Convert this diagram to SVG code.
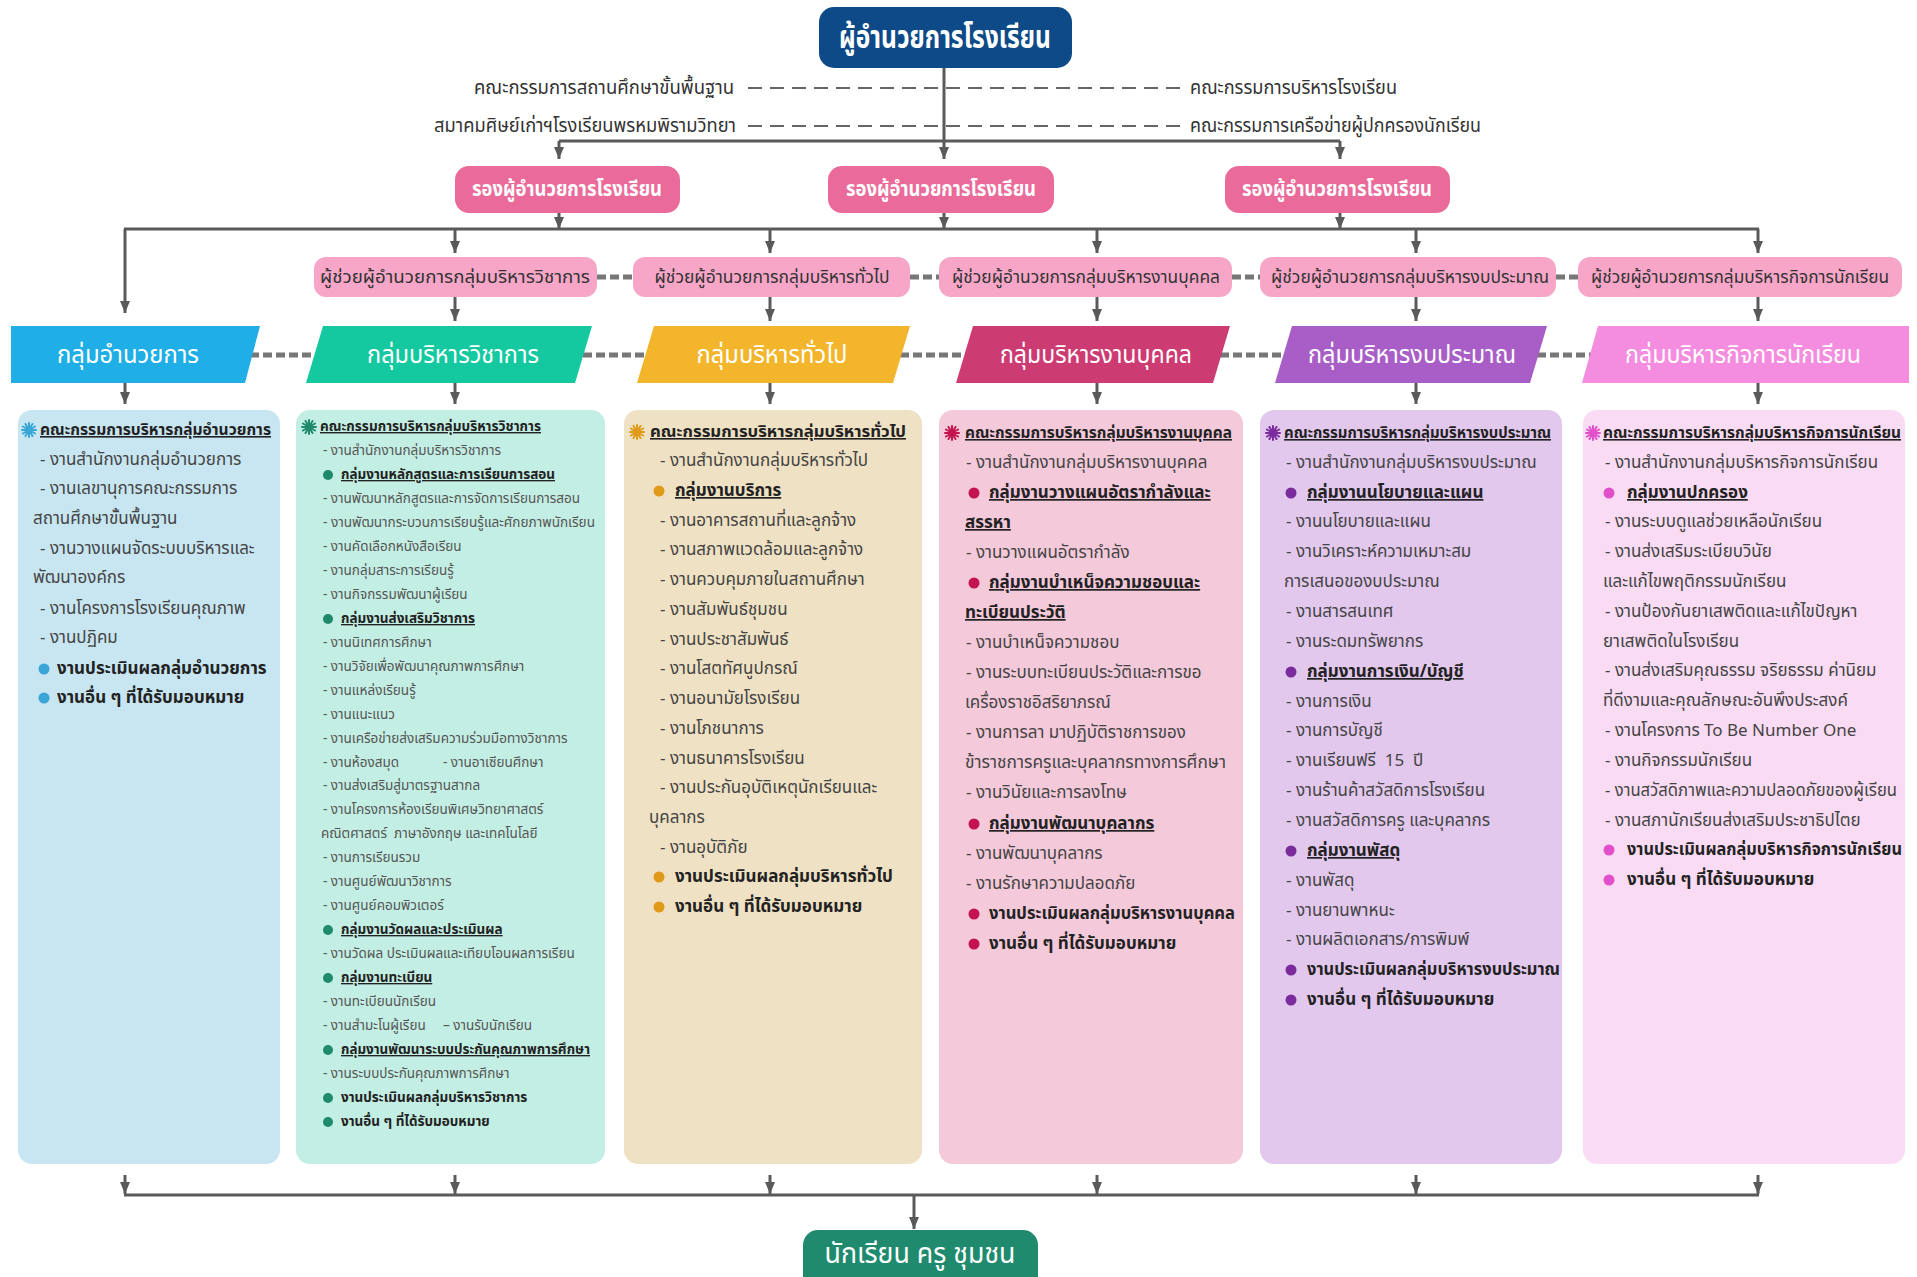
<svg xmlns="http://www.w3.org/2000/svg" xmlns:xlink="http://www.w3.org/1999/xlink" width="1917" height="1277" viewBox="0 0 1917 1277">
<defs>
<style>
text { font-family: "Noto Sans Thai", "Noto Sans Thai Looped", "Noto Sans", "DejaVu Sans", sans-serif; }
.hd { font-weight: 700; fill: #fff; text-anchor: middle; }
.gh { font-weight: 400; }
.lbl { font-size: 19px; fill: #333; }
.as { font-size: 17px; fill: #333; text-anchor: middle; }
.it { font-size: 17px; fill: #444; }
.itb { font-size: 17px; fill: #222; font-weight: 700; }
.ph { font-size: 16px; fill: #222; font-weight: 700; text-decoration: underline; }
.u { text-decoration: underline; }
.s2 { font-size: 13.5px; fill: #555; }
.s2b { font-size: 13.5px; fill: #222; font-weight: 700; }
.s2h { font-size: 14px; }
.conn { stroke: #5a5a5a; stroke-width: 3; fill: none; }
.arr { marker-end: url(#ah); }
.dash { stroke: #666; stroke-width: 2; stroke-dasharray: 14 8; fill: none; }
.dthick { stroke: #777; stroke-width: 5; stroke-dasharray: 9 4; fill: none; }
</style>
<marker id="ah" viewBox="0 0 12 10" refX="12" refY="5" markerWidth="12" markerHeight="10" orient="auto" markerUnits="userSpaceOnUse">
<path d="M0,0 L12,5 L0,10 z" fill="#5a5a5a"/>
</marker>
<g id="star">
<path d="M-7 0L7 0M-6.06-3.5L6.06 3.5M-3.5-6.06L3.5 6.06M0-7L0 7M3.5-6.06L-3.5 6.06M6.06-3.5L-6.06 3.5" stroke="currentColor" stroke-width="2" stroke-linecap="round" fill="none"/>
<circle r="3.2" fill="currentColor"/>
</g>
</defs>
<rect width="1917" height="1277" fill="#ffffff"/>

<g id="connectors">
<line class="dash" x1="748" y1="88" x2="1180" y2="88"/>
<line class="dash" x1="748" y1="126" x2="1180" y2="126"/>
<line class="conn arr" x1="944" y1="68" x2="944" y2="159"/>
<line class="conn" x1="559" y1="141" x2="1340" y2="141"/>
<line class="conn arr" x1="559" y1="141" x2="559" y2="159"/>
<line class="conn arr" x1="1340" y1="141" x2="1340" y2="159"/>
<line class="conn arr" x1="559" y1="213" x2="559" y2="229"/>
<line class="conn arr" x1="944" y1="213" x2="944" y2="229"/>
<line class="conn arr" x1="1340" y1="213" x2="1340" y2="229"/>
<line class="conn" x1="124" y1="229" x2="1759" y2="229"/>
<line class="conn arr" x1="125" y1="229" x2="125" y2="313"/>
<line class="conn arr" x1="455" y1="229" x2="455" y2="253"/>
<line class="conn arr" x1="770" y1="229" x2="770" y2="253"/>
<line class="conn arr" x1="1097" y1="229" x2="1097" y2="253"/>
<line class="conn arr" x1="1416" y1="229" x2="1416" y2="253"/>
<line class="conn arr" x1="1758" y1="229" x2="1758" y2="253"/>
<line class="dthick" x1="597" y1="277" x2="633" y2="277"/>
<line class="dthick" x1="910" y1="277" x2="939" y2="277"/>
<line class="dthick" x1="1232" y1="277" x2="1260" y2="277"/>
<line class="dthick" x1="1556" y1="277" x2="1578" y2="277"/>
<line class="conn arr" x1="455" y1="297" x2="455" y2="321"/>
<line class="conn arr" x1="770" y1="297" x2="770" y2="321"/>
<line class="conn arr" x1="1097" y1="297" x2="1097" y2="321"/>
<line class="conn arr" x1="1416" y1="297" x2="1416" y2="321"/>
<line class="conn arr" x1="1758" y1="297" x2="1758" y2="321"/>
<line class="dthick" x1="250" y1="355" x2="316" y2="355"/>
<line class="dthick" x1="583" y1="355" x2="647" y2="355"/>
<line class="dthick" x1="900" y1="355" x2="966" y2="355"/>
<line class="dthick" x1="1220" y1="355" x2="1285" y2="355"/>
<line class="dthick" x1="1537" y1="355" x2="1592" y2="355"/>
<line class="conn arr" x1="125" y1="383" x2="125" y2="404"/>
<line class="conn arr" x1="455" y1="383" x2="455" y2="404"/>
<line class="conn arr" x1="770" y1="383" x2="770" y2="404"/>
<line class="conn arr" x1="1097" y1="383" x2="1097" y2="404"/>
<line class="conn arr" x1="1416" y1="383" x2="1416" y2="404"/>
<line class="conn arr" x1="1758" y1="383" x2="1758" y2="404"/>
<line class="conn arr" x1="125" y1="1175" x2="125" y2="1194"/>
<line class="conn arr" x1="455" y1="1175" x2="455" y2="1194"/>
<line class="conn arr" x1="770" y1="1175" x2="770" y2="1194"/>
<line class="conn arr" x1="1097" y1="1175" x2="1097" y2="1194"/>
<line class="conn arr" x1="1416" y1="1175" x2="1416" y2="1194"/>
<line class="conn arr" x1="1758" y1="1175" x2="1758" y2="1194"/>
<line class="conn" x1="124" y1="1195" x2="1759" y2="1195"/>
<line class="conn arr" x1="914" y1="1195" x2="914" y2="1229"/>
</g>

<g id="node-director">
<rect x="819" y="7" width="253" height="61" rx="15" fill="#0e4a87"/>
<text class="hd" x="945" y="48" font-size="32" font-weight="500" textLength="212" lengthAdjust="spacingAndGlyphs">ผู้อำนวยการโรงเรียน</text>
</g>
<g id="label-basic-committee"><text class="lbl" x="734" y="94" text-anchor="end" textLength="260" lengthAdjust="spacingAndGlyphs">คณะกรรมการสถานศึกษาขั้นพื้นฐาน</text></g>
<g id="label-alumni"><text class="lbl" x="736" y="132" text-anchor="end" textLength="302" lengthAdjust="spacingAndGlyphs">สมาคมศิษย์เก่าฯโรงเรียนพรหมพิรามวิทยา</text></g>
<g id="label-admin-committee"><text class="lbl" x="1190" y="94" textLength="207" lengthAdjust="spacingAndGlyphs">คณะกรรมการบริหารโรงเรียน</text></g>
<g id="label-parent-network"><text class="lbl" x="1190" y="132" textLength="291" lengthAdjust="spacingAndGlyphs">คณะกรรมการเครือข่ายผู้ปกครองนักเรียน</text></g>

<g id="node-deputy-1">
<rect x="455" y="166" width="225" height="47" rx="14" fill="#ea6a9a"/>
<text class="hd" x="567" y="196" font-size="21" textLength="190" lengthAdjust="spacingAndGlyphs">รองผู้อำนวยการโรงเรียน</text>
</g>
<g id="node-deputy-2">
<rect x="828" y="166" width="226" height="47" rx="14" fill="#ea6a9a"/>
<text class="hd" x="941" y="196" font-size="21" textLength="190" lengthAdjust="spacingAndGlyphs">รองผู้อำนวยการโรงเรียน</text>
</g>
<g id="node-deputy-3">
<rect x="1225" y="166" width="225" height="47" rx="14" fill="#ea6a9a"/>
<text class="hd" x="1337" y="196" font-size="21" textLength="190" lengthAdjust="spacingAndGlyphs">รองผู้อำนวยการโรงเรียน</text>
</g>

<g id="node-asst-1">
<rect x="314" y="257" width="283" height="40" rx="12" fill="#f8a6c8"/>
<text class="as" x="455" y="283" textLength="270" lengthAdjust="spacingAndGlyphs">ผู้ช่วยผู้อำนวยการกลุ่มบริหารวิชาการ</text>
</g>
<g id="node-asst-2">
<rect x="633" y="257" width="277" height="40" rx="12" fill="#f8a6c8"/>
<text class="as" x="772" y="283" textLength="235" lengthAdjust="spacingAndGlyphs">ผู้ช่วยผู้อำนวยการกลุ่มบริหารทั่วไป</text>
</g>
<g id="node-asst-3">
<rect x="939" y="257" width="293" height="40" rx="12" fill="#f8a6c8"/>
<text class="as" x="1086" y="283" textLength="268" lengthAdjust="spacingAndGlyphs">ผู้ช่วยผู้อำนวยการกลุ่มบริหารงานบุคคล</text>
</g>
<g id="node-asst-4">
<rect x="1260" y="257" width="296" height="40" rx="12" fill="#f8a6c8"/>
<text class="as" x="1410" y="283" textLength="278" lengthAdjust="spacingAndGlyphs">ผู้ช่วยผู้อำนวยการกลุ่มบริหารงบประมาณ</text>
</g>
<g id="node-asst-5">
<rect x="1578" y="257" width="324" height="40" rx="12" fill="#f8a6c8"/>
<text class="as" x="1740" y="283" textLength="298" lengthAdjust="spacingAndGlyphs">ผู้ช่วยผู้อำนวยการกลุ่มบริหารกิจการนักเรียน</text>
</g>

<g id="node-group-1">
<polygon points="11,326 260,326 245,383 11,383" fill="#20aee6"/>
<text class="hd gh" x="128" y="363" font-size="24" textLength="142" lengthAdjust="spacingAndGlyphs">กลุ่มอำนวยการ</text>
</g>
<g id="node-group-2">
<polygon points="323,326 592,326 575,383 306,383" fill="#14c9a0"/>
<text class="hd gh" x="453" y="363" font-size="24" textLength="172" lengthAdjust="spacingAndGlyphs">กลุ่มบริหารวิชาการ</text>
</g>
<g id="node-group-3">
<polygon points="654,326 910,326 893,383 637,383" fill="#f3b52b"/>
<text class="hd gh" x="772" y="363" font-size="24" textLength="151" lengthAdjust="spacingAndGlyphs">กลุ่มบริหารทั่วไป</text>
</g>
<g id="node-group-4">
<polygon points="973,326 1230,326 1213,383 956,383" fill="#cd3b73"/>
<text class="hd gh" x="1096" y="363" font-size="24" textLength="192" lengthAdjust="spacingAndGlyphs">กลุ่มบริหารงานบุคคล</text>
</g>
<g id="node-group-5">
<polygon points="1292,326 1547,326 1530,383 1275,383" fill="#a85ec6"/>
<text class="hd gh" x="1412" y="363" font-size="24" textLength="208" lengthAdjust="spacingAndGlyphs">กลุ่มบริหารงบประมาณ</text>
</g>
<g id="node-group-6">
<polygon points="1598,326 1909,326 1909,383 1582,383" fill="#f48de0"/>
<text class="hd gh" x="1743" y="363" font-size="24" textLength="236" lengthAdjust="spacingAndGlyphs">กลุ่มบริหารกิจการนักเรียน</text>
</g>

<g id="node-panel-1">
<rect x="18" y="410" width="262" height="754" rx="14" fill="#c8e6f2"/>
<use href="#star" x="29" y="430" style="color:#3aa6d6"/>
<text class="ph" x="40" y="435" textLength="231" lengthAdjust="spacingAndGlyphs">คณะกรรมการบริหารกลุ่มอำนวยการ</text>
<text class="it" x="40" y="465">- งานสำนักงานกลุ่มอำนวยการ</text>
<text class="it" x="40" y="494">- งานเลขานุการคณะกรรมการ</text>
<text class="it" x="33" y="524">สถานศึกษาขั้นพื้นฐาน</text>
<text class="it" x="40" y="554">- งานวางแผนจัดระบบบริหารและ</text>
<text class="it" x="33" y="583">พัฒนาองค์กร</text>
<text class="it" x="40" y="614">- งานโครงการโรงเรียนคุณภาพ</text>
<text class="it" x="40" y="643">- งานปฏิคม</text>
<circle cx="44" cy="669" r="5.5" fill="#3aa6d6"/>
<text class="itb" x="57" y="674">งานประเมินผลกลุ่มอำนวยการ</text>
<circle cx="44" cy="698" r="5.5" fill="#3aa6d6"/>
<text class="itb" x="57" y="703">งานอื่น ๆ ที่ได้รับมอบหมาย</text>
</g>

<g id="node-panel-2">
<rect x="296" y="410" width="309" height="754" rx="14" fill="#c3eee3"/>
<use href="#star" x="309" y="427" style="color:#1f8a6a"/>
<text class="ph s2h" x="320" y="431" textLength="221" lengthAdjust="spacingAndGlyphs">คณะกรรมการบริหารกลุ่มบริหารวิชาการ</text>
<text class="s2" x="323" y="455">- งานสำนักงานกลุ่มบริหารวิชาการ</text>
<circle cx="328" cy="475" r="5" fill="#1f8a6a"/>
<text class="s2b u" x="341" y="479">กลุ่มงานหลักสูตรและการเรียนการสอน</text>
<text class="s2" x="323" y="503">- งานพัฒนาหลักสูตรและการจัดการเรียนการสอน</text>
<text class="s2" x="323" y="527" textLength="272" lengthAdjust="spacingAndGlyphs">- งานพัฒนากระบวนการเรียนรู้และศักยภาพนักเรียน</text>
<text class="s2" x="323" y="551">- งานคัดเลือกหนังสือเรียน</text>
<text class="s2" x="323" y="575">- งานกลุ่มสาระการเรียนรู้</text>
<text class="s2" x="323" y="599">- งานกิจกรรมพัฒนาผู้เรียน</text>
<circle cx="328" cy="619" r="5" fill="#1f8a6a"/>
<text class="s2b u" x="341" y="623">กลุ่มงานส่งเสริมวิชาการ</text>
<text class="s2" x="323" y="647">- งานนิเทศการศึกษา</text>
<text class="s2" x="323" y="671">- งานวิจัยเพื่อพัฒนาคุณภาพการศึกษา</text>
<text class="s2" x="323" y="695">- งานแหล่งเรียนรู้</text>
<text class="s2" x="323" y="719">- งานแนะแนว</text>
<text class="s2" x="323" y="743">- งานเครือข่ายส่งเสริมความร่วมมือทางวิชาการ</text>
<text class="s2" x="323" y="767">- งานห้องสมุด</text>
<text class="s2" x="443" y="767">- งานอาเซียนศึกษา</text>
<text class="s2" x="323" y="790">- งานส่งเสริมสู่มาตรฐานสากล</text>
<text class="s2" x="323" y="814">- งานโครงการห้องเรียนพิเศษวิทยาศาสตร์</text>
<text class="s2" x="321" y="838" style="white-space:pre">คณิตศาสตร์  ภาษาอังกฤษ และเทคโนโลยี</text>
<text class="s2" x="323" y="862">- งานการเรียนรวม</text>
<text class="s2" x="323" y="886">- งานศูนย์พัฒนาวิชาการ</text>
<text class="s2" x="323" y="910">- งานศูนย์คอมพิวเตอร์</text>
<circle cx="328" cy="930" r="5" fill="#1f8a6a"/>
<text class="s2b u" x="341" y="934">กลุ่มงานวัดผลและประเมินผล</text>
<text class="s2" x="323" y="958">- งานวัดผล ประเมินผลและเทียบโอนผลการเรียน</text>
<circle cx="328" cy="978" r="5" fill="#1f8a6a"/>
<text class="s2b u" x="341" y="982">กลุ่มงานทะเบียน</text>
<text class="s2" x="323" y="1006">- งานทะเบียนนักเรียน</text>
<text class="s2" x="323" y="1030">- งานสำมะโนผู้เรียน</text>
<text class="s2" x="443" y="1030">– งานรับนักเรียน</text>
<circle cx="328" cy="1050" r="5" fill="#1f8a6a"/>
<text class="s2b u" x="341" y="1054" textLength="249" lengthAdjust="spacingAndGlyphs">กลุ่มงานพัฒนาระบบประกันคุณภาพการศึกษา</text>
<text class="s2" x="323" y="1078">- งานระบบประกันคุณภาพการศึกษา</text>
<circle cx="328" cy="1098" r="5" fill="#1f8a6a"/>
<text class="s2b" x="341" y="1102">งานประเมินผลกลุ่มบริหารวิชาการ</text>
<circle cx="328" cy="1122" r="5" fill="#1f8a6a"/>
<text class="s2b" x="341" y="1126">งานอื่น ๆ ที่ได้รับมอบหมาย</text>
</g>

<g id="node-panel-3">
<rect x="624" y="410" width="298" height="754" rx="14" fill="#efe1c3"/>
<use href="#star" x="637" y="432" style="color:#de9a18"/>
<text class="ph" x="650" y="437" textLength="256" lengthAdjust="spacingAndGlyphs">คณะกรรมการบริหารกลุ่มบริหารทั่วไป</text>
<text class="it" x="660" y="466">- งานสำนักงานกลุ่มบริหารทั่วไป</text>
<circle cx="659" cy="491" r="5.5" fill="#de9a18"/>
<text class="itb u" x="675" y="496">กลุ่มงานบริการ</text>
<text class="it" x="660" y="526">- งานอาคารสถานที่และลูกจ้าง</text>
<text class="it" x="660" y="555">- งานสภาพแวดล้อมและลูกจ้าง</text>
<text class="it" x="660" y="585">- งานควบคุมภายในสถานศึกษา</text>
<text class="it" x="660" y="615">- งานสัมพันธ์ชุมชน</text>
<text class="it" x="660" y="645">- งานประชาสัมพันธ์</text>
<text class="it" x="660" y="674">- งานโสตทัศนูปกรณ์</text>
<text class="it" x="660" y="704">- งานอนามัยโรงเรียน</text>
<text class="it" x="660" y="734">- งานโภชนาการ</text>
<text class="it" x="660" y="764">- งานธนาคารโรงเรียน</text>
<text class="it" x="660" y="793">- งานประกันอุบัติเหตุนักเรียนและ</text>
<text class="it" x="649" y="823">บุคลากร</text>
<text class="it" x="660" y="853">- งานอุบัติภัย</text>
<circle cx="659" cy="877" r="5.5" fill="#de9a18"/>
<text class="itb" x="675" y="882">งานประเมินผลกลุ่มบริหารทั่วไป</text>
<circle cx="659" cy="907" r="5.5" fill="#de9a18"/>
<text class="itb" x="675" y="912">งานอื่น ๆ ที่ได้รับมอบหมาย</text>
</g>

<g id="node-panel-4">
<rect x="939" y="410" width="304" height="754" rx="14" fill="#f4c9da"/>
<use href="#star" x="952" y="433" style="color:#c3144f"/>
<text class="ph" x="965" y="438" textLength="267" lengthAdjust="spacingAndGlyphs">คณะกรรมการบริหารกลุ่มบริหารงานบุคคล</text>
<text class="it" x="966" y="468">- งานสำนักงานกลุ่มบริหารงานบุคคล</text>
<circle cx="974" cy="493" r="5.5" fill="#c3144f"/>
<text class="itb u" x="989" y="498">กลุ่มงานวางแผนอัตรากำลังและ</text>
<text class="itb u" x="965" y="528">สรรหา</text>
<text class="it" x="966" y="558">- งานวางแผนอัตรากำลัง</text>
<circle cx="974" cy="583" r="5.5" fill="#c3144f"/>
<text class="itb u" x="989" y="588">กลุ่มงานบำเหน็จความชอบและ</text>
<text class="itb u" x="965" y="618">ทะเบียนประวัติ</text>
<text class="it" x="966" y="648">- งานบำเหน็จความชอบ</text>
<text class="it" x="966" y="678">- งานระบบทะเบียนประวัติและการขอ</text>
<text class="it" x="965" y="708">เครื่องราชอิสริยาภรณ์</text>
<text class="it" x="966" y="738">- งานการลา มาปฏิบัติราชการของ</text>
<text class="it" x="965" y="768" textLength="261" lengthAdjust="spacingAndGlyphs">ข้าราชการครูและบุคลากรทางการศึกษา</text>
<text class="it" x="966" y="798">- งานวินัยและการลงโทษ</text>
<circle cx="974" cy="824" r="5.5" fill="#c3144f"/>
<text class="itb u" x="989" y="829">กลุ่มงานพัฒนาบุคลากร</text>
<text class="it" x="966" y="859">- งานพัฒนาบุคลากร</text>
<text class="it" x="966" y="889">- งานรักษาความปลอดภัย</text>
<circle cx="974" cy="914" r="5.5" fill="#c3144f"/>
<text class="itb" x="989" y="919" textLength="246" lengthAdjust="spacingAndGlyphs">งานประเมินผลกลุ่มบริหารงานบุคคล</text>
<circle cx="974" cy="944" r="5.5" fill="#c3144f"/>
<text class="itb" x="989" y="949">งานอื่น ๆ ที่ได้รับมอบหมาย</text>
</g>

<g id="node-panel-5">
<rect x="1260" y="410" width="302" height="754" rx="14" fill="#e3c8ee"/>
<use href="#star" x="1273" y="433" style="color:#7b2c9c"/>
<text class="ph" x="1284" y="438" textLength="267" lengthAdjust="spacingAndGlyphs">คณะกรรมการบริหารกลุ่มบริหารงบประมาณ</text>
<text class="it" x="1286" y="468">- งานสำนักงานกลุ่มบริหารงบประมาณ</text>
<circle cx="1291" cy="493" r="5.5" fill="#7b2c9c"/>
<text class="itb u" x="1307" y="498">กลุ่มงานนโยบายและแผน</text>
<text class="it" x="1286" y="527">- งานนโยบายและแผน</text>
<text class="it" x="1286" y="557">- งานวิเคราะห์ความเหมาะสม</text>
<text class="it" x="1284" y="587">การเสนอของบประมาณ</text>
<text class="it" x="1286" y="617">- งานสารสนเทศ</text>
<text class="it" x="1286" y="647">- งานระดมทรัพยากร</text>
<circle cx="1291" cy="672" r="5.5" fill="#7b2c9c"/>
<text class="itb u" x="1307" y="677">กลุ่มงานการเงิน/บัญชี</text>
<text class="it" x="1286" y="707">- งานการเงิน</text>
<text class="it" x="1286" y="736">- งานการบัญชี</text>
<text class="it" x="1286" y="766" style="white-space:pre">- งานเรียนฟรี  15  ปี</text>
<text class="it" x="1286" y="796">- งานร้านค้าสวัสดิการโรงเรียน</text>
<text class="it" x="1286" y="826">- งานสวัสดิการครู และบุคลากร</text>
<circle cx="1291" cy="851" r="5.5" fill="#7b2c9c"/>
<text class="itb u" x="1307" y="856">กลุ่มงานพัสดุ</text>
<text class="it" x="1286" y="886">- งานพัสดุ</text>
<text class="it" x="1286" y="916">- งานยานพาหนะ</text>
<text class="it" x="1286" y="945">- งานผลิตเอกสาร/การพิมพ์</text>
<circle cx="1291" cy="970" r="5.5" fill="#7b2c9c"/>
<text class="itb" x="1307" y="975" textLength="253" lengthAdjust="spacingAndGlyphs">งานประเมินผลกลุ่มบริหารงบประมาณ</text>
<circle cx="1291" cy="1000" r="5.5" fill="#7b2c9c"/>
<text class="itb" x="1307" y="1005">งานอื่น ๆ ที่ได้รับมอบหมาย</text>
</g>

<g id="node-panel-6">
<rect x="1583" y="410" width="322" height="754" rx="14" fill="#fadbf4"/>
<use href="#star" x="1593" y="433" style="color:#e24fcb"/>
<text class="ph" x="1603" y="438" textLength="298" lengthAdjust="spacingAndGlyphs">คณะกรรมการบริหารกลุ่มบริหารกิจการนักเรียน</text>
<text class="it" x="1605" y="468">- งานสำนักงานกลุ่มบริหารกิจการนักเรียน</text>
<circle cx="1609" cy="493" r="5.5" fill="#e24fcb"/>
<text class="itb u" x="1627" y="498">กลุ่มงานปกครอง</text>
<text class="it" x="1605" y="527">- งานระบบดูแลช่วยเหลือนักเรียน</text>
<text class="it" x="1605" y="557">- งานส่งเสริมระเบียบวินัย</text>
<text class="it" x="1603" y="587">และแก้ไขพฤติกรรมนักเรียน</text>
<text class="it" x="1605" y="617">- งานป้องกันยาเสพติดและแก้ไขปัญหา</text>
<text class="it" x="1603" y="647">ยาเสพติดในโรงเรียน</text>
<text class="it" x="1605" y="676">- งานส่งเสริมคุณธรรม จริยธรรม ค่านิยม</text>
<text class="it" x="1603" y="706">ที่ดีงามและคุณลักษณะอันพึงประสงค์</text>
<text class="it" x="1605" y="736">- งานโครงการ To Be Number One</text>
<text class="it" x="1605" y="766">- งานกิจกรรมนักเรียน</text>
<text class="it" x="1605" y="796" textLength="292" lengthAdjust="spacingAndGlyphs">- งานสวัสดิภาพและความปลอดภัยของผู้เรียน</text>
<text class="it" x="1605" y="826">- งานสภานักเรียนส่งเสริมประชาธิปไตย</text>
<circle cx="1609" cy="850" r="5.5" fill="#e24fcb"/>
<text class="itb" x="1627" y="855" textLength="275" lengthAdjust="spacingAndGlyphs">งานประเมินผลกลุ่มบริหารกิจการนักเรียน</text>
<circle cx="1609" cy="880" r="5.5" fill="#e24fcb"/>
<text class="itb" x="1627" y="885">งานอื่น ๆ ที่ได้รับมอบหมาย</text>
</g>

<g id="node-bottom">
<rect x="803" y="1230" width="235" height="62" rx="15" fill="#1f8a6e"/>
<text class="hd gh" x="920" y="1263" font-size="29" textLength="191" lengthAdjust="spacingAndGlyphs">นักเรียน ครู ชุมชน</text>
</g>
</svg>
